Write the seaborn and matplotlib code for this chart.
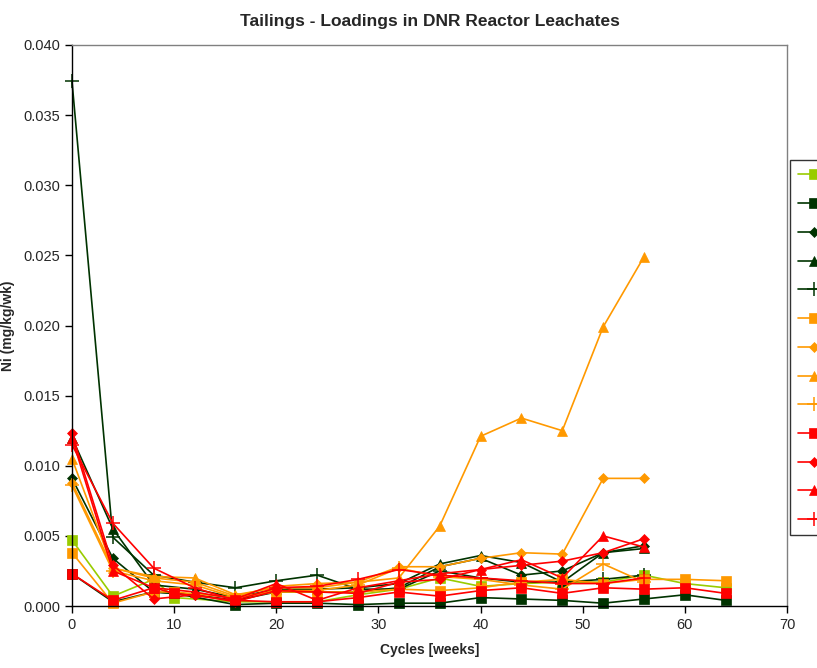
import matplotlib
matplotlib.use("Agg")
import matplotlib.pyplot as plt
import seaborn as sns
import pandas as pd

# Sampling cycles (weeks)
weeks_sq = [0, 4, 8, 10, 16, 20, 24, 28, 32, 36, 40, 44, 48, 52, 56, 60, 64]
weeks = [0, 4, 8, 12, 16, 20, 24, 28, 32, 36, 40, 44, 48, 52, 56]

# Ni loadings (mg/kg/wk)
lg_square = [0.0047, 0.0007, 0.0019, 0.0006, 0.0003, 0.0003, 0.0003, 0.0008, 0.0012,
             0.0020, 0.0014, 0.0016, 0.0017, 0.0017, 0.0022, 0.0016, 0.0013]
dg_square = [0.0023, 0.0003, 0.0010, 0.0009, 0.0001, 0.0002, 0.0002, 0.0001, 0.0002,
             0.0002, 0.0006, 0.0005, 0.0004, 0.0002, 0.0005, 0.0008, 0.0004]
dg_diamond = [0.0091, 0.0034, 0.0010, 0.0008, 0.0004, 0.0010, 0.0010, 0.0010, 0.0013,
              0.0028, 0.0034, 0.0022, 0.0025, 0.0038, 0.0043]
dg_triangle = [0.0120, 0.0055, 0.0015, 0.0012, 0.0006, 0.0012, 0.0012, 0.0013, 0.0016,
               0.0030, 0.0036, 0.0031, 0.0017, 0.0038, 0.0041]
dg_plus = [0.0374, 0.0049, 0.0022, 0.0017, 0.0013, 0.0018, 0.0022, 0.0012, 0.0012,
           0.0025, 0.0020, 0.0017, 0.0017, 0.0019, 0.0022]
or_square = [0.0038, 0.0002, 0.0010, 0.0010, 0.0006, 0.0010, 0.0010, 0.0010, 0.0012,
             0.0011, 0.0013, 0.0017, 0.0019, 0.0016, 0.0019, 0.0019, 0.0018]
or_diamond = [0.0088, 0.0027, 0.0020, 0.0017, 0.0007, 0.0014, 0.0016, 0.0017, 0.0028,
              0.0028, 0.0034, 0.0038, 0.0037, 0.0091, 0.0091]
or_triangle = [0.0105, 0.0027, 0.0021, 0.0020, 0.0008, 0.0013, 0.0013, 0.0017, 0.0020,
               0.0057, 0.0121, 0.0134, 0.0125, 0.0199, 0.0249]
or_plus = [0.0086, 0.0025, 0.0018, 0.0015, 0.0006, 0.0011, 0.0011, 0.0015, 0.0027,
           0.0021, 0.0019, 0.0015, 0.0012, 0.0030, 0.0017]
rd_square = [0.0023, 0.0004, 0.0013, 0.0009, 0.0004, 0.0003, 0.0003, 0.0006, 0.0010,
             0.0007, 0.0011, 0.0013, 0.0009, 0.0013, 0.0012, 0.0013, 0.0009]
rd_diamond = [0.0123, 0.0029, 0.0005, 0.0008, 0.0003, 0.0011, 0.0010, 0.0009, 0.0017,
              0.0019, 0.0026, 0.0029, 0.0032, 0.0038, 0.0048]
rd_triangle = [0.0120, 0.0025, 0.0013, 0.0010, 0.0005, 0.0016, 0.0004, 0.0013, 0.0018,
               0.0023, 0.0026, 0.0033, 0.0020, 0.0050, 0.0042]
rd_plus = [0.0115, 0.0059, 0.0027, 0.0013, 0.0004, 0.0013, 0.0014, 0.0019, 0.0026,
           0.0022, 0.0020, 0.0018, 0.0016, 0.0016, 0.0020]

LIGHT_GREEN = "#99CC00"
DARK_GREEN = "#003300"
ORANGE = "#FF9900"
RED = "#FF0000"

series = [
    (weeks_sq, lg_square, LIGHT_GREEN, "s"),
    (weeks_sq, dg_square, DARK_GREEN, "s"),
    (weeks, dg_diamond, DARK_GREEN, "D"),
    (weeks, dg_triangle, DARK_GREEN, "^"),
    (weeks, dg_plus, DARK_GREEN, "+"),
    (weeks_sq, or_square, ORANGE, "s"),
    (weeks, or_diamond, ORANGE, "D"),
    (weeks, or_triangle, ORANGE, "^"),
    (weeks, or_plus, ORANGE, "+"),
    (weeks_sq, rd_square, RED, "s"),
    (weeks, rd_diamond, RED, "D"),
    (weeks, rd_triangle, RED, "^"),
    (weeks, rd_plus, RED, "+"),
]

sns.set_style("white")
plt.rcParams["font.family"] = ["Liberation Sans", "DejaVu Sans"]

fig = plt.figure(figsize=(8.17, 6.68), dpi=100)
ax = fig.add_axes([72 / 817, 62 / 668, 715 / 817, 561 / 668])

handles = []
for xs, ys, color, marker in series:
    df = pd.DataFrame({"week": xs, "ni": ys})
    msize = {"s": 6.5, "D": 5.5, "^": 7, "+": 10}[marker]
    sns.lineplot(data=df, x="week", y="ni", ax=ax, color=color, marker=marker,
                 markersize=msize, markeredgecolor=color,
                 markeredgewidth=1.1 if marker == "+" else 0.5,
                 linewidth=1.2, sort=False, estimator=None, legend=False, clip_on=False)
    handles.append(ax.lines[-1])

ax.set_xlim(0, 70)
ax.set_ylim(0, 0.040)
ax.set_xticks(range(0, 71, 10))
ax.set_yticks([i * 0.005 for i in range(9)])
ax.set_yticklabels([f"{i * 0.005:.3f}" for i in range(9)])
ax.tick_params(axis="both", which="major", direction="out", length=5, width=1,
               labelsize=10.5, color="black", bottom=True, left=True)

for side in ("left", "bottom"):
    ax.spines[side].set_color("black")
    ax.spines[side].set_linewidth(1.0)
for side in ("top", "right"):
    ax.spines[side].set_color("#808080")
    ax.spines[side].set_linewidth(1.0)

ax.set_xlabel("Cycles [weeks]", fontsize=10, fontweight="bold", labelpad=8)
ax.set_ylabel("Ni (mg/kg/wk)", fontsize=10, fontweight="bold", labelpad=6)
ax.set_title("Tailings - Loadings in DNR Reactor Leachates", fontsize=12.5,
             fontweight="bold", pad=14)

leg = fig.legend(handles, ["      "] * len(handles), loc="upper left",
                 bbox_to_anchor=(790 / 817, 508 / 668), frameon=True, fancybox=False,
                 fontsize=10, labelspacing=1.06, handlelength=2.3, borderpad=0.6,
                 handletextpad=0.4, borderaxespad=0)
leg.get_frame().set_edgecolor("black")
leg.get_frame().set_linewidth(1.0)

fig.savefig("out.png", dpi=100)
